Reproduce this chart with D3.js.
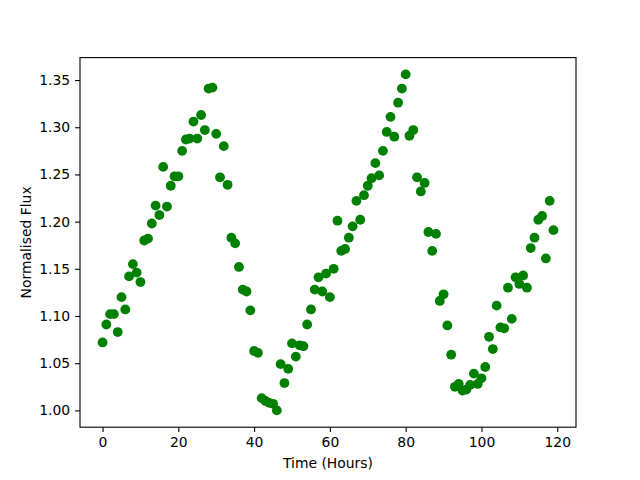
<!DOCTYPE html>
<html>
<head>
<meta charset="utf-8">
<script src="https://cdn.jsdelivr.net/npm/d3@7"></script>
<style>
  body { margin: 0; background: #fff; }
  svg text { font-family: "DejaVu Sans", sans-serif; }
</style>
</head>
<body>
<div id="chart"></div>
<script>
// hours since start, one reading per hour
const hours = d3.range(0, 120);

const flux = [
  1.072, 1.091, 1.102, 1.102, 1.083, 1.120, 1.107, 1.142, 1.155, 1.146,
  1.136, 1.180, 1.182, 1.198, 1.217, 1.207, 1.258, 1.216, 1.238, 1.248,
  1.248, 1.275, 1.287, 1.288, 1.306, 1.288, 1.313, 1.297, 1.341, 1.342,
  1.293, 1.247, 1.280, 1.239, 1.183, 1.177, 1.152, 1.128, 1.126, 1.106,
  1.063, 1.061, 1.013, 1.010, 1.008, 1.007, 1.000, 1.049, 1.029, 1.044,
  1.071, 1.057, 1.069, 1.068, 1.091, 1.107, 1.128, 1.141, 1.126, 1.145,
  1.120, 1.150, 1.201, 1.169, 1.171, 1.183, 1.195, 1.222, 1.202, 1.228,
  1.238, 1.246, 1.262, 1.249, 1.275, 1.295, 1.311, 1.290, 1.326, 1.341,
  1.356, 1.291, 1.297, 1.247, 1.232, 1.241, 1.189, 1.169, 1.187, 1.116,
  1.123, 1.090, 1.059, 1.025, 1.028, 1.021, 1.022, 1.027, 1.039, 1.028,
  1.034, 1.046, 1.078, 1.065, 1.111, 1.088, 1.087, 1.130, 1.097, 1.141,
  1.134, 1.143, 1.130, 1.172, 1.183, 1.202, 1.206, 1.161, 1.222, 1.191
];

const xTicks = [0, 20, 40, 60, 80, 100, 120];
const yTicks = [1.00, 1.05, 1.10, 1.15, 1.20, 1.25, 1.30, 1.35];

const W = 640, H = 480;
const margin = { top: 57.6, right: 64, bottom: 52.8, left: 80 };
const width = W - margin.left - margin.right;
const height = H - margin.top - margin.bottom;

const data = hours.map((h, i) => ({ h: h, f: flux[i] }));

// matplotlib-style 5% padding around the data
function padded(ext) {
  const p = (ext[1] - ext[0]) * 0.05;
  return [ext[0] - p, ext[1] + p];
}

const x = d3.scaleLinear()
  .domain(padded(d3.extent(hours)))
  .range([0, width]);

const y = d3.scaleLinear()
  .domain(padded(d3.extent(flux)))
  .range([height, 0]);

const svg = d3.select("#chart").append("svg")
  .attr("width", W)
  .attr("height", H);

const g = svg.append("g")
  .attr("transform", `translate(${margin.left},${margin.top})`);

// points
g.append("g")
  .selectAll("circle")
  .data(data)
  .enter().append("circle")
  .attr("cx", d => x(d.h))
  .attr("cy", d => y(d.f))
  .attr("r", 4.9)
  .attr("fill", "#008000");

// axes
const xAxis = g.append("g")
  .attr("transform", `translate(0,${height})`)
  .call(d3.axisBottom(x).tickValues(xTicks).tickSize(4.9).tickPadding(4.9).tickFormat(d3.format("d")));

const yAxis = g.append("g")
  .call(d3.axisLeft(y).tickValues(yTicks).tickSize(4.9).tickPadding(4.9).tickFormat(d3.format(".2f")));

[xAxis, yAxis].forEach(a => {
  a.select(".domain").remove();
  a.selectAll(".tick line").attr("stroke", "#000").attr("stroke-width", 1.1);
  a.selectAll(".tick text")
    .attr("fill", "#000")
    .style("font-size", "13.9px")
    .style("font-family", "DejaVu Sans, sans-serif");
});

// frame
g.append("rect")
  .attr("width", width)
  .attr("height", height)
  .attr("fill", "none")
  .attr("stroke", "#000")
  .attr("stroke-width", 1.1);

// labels
svg.append("text")
  .attr("x", margin.left + width / 2)
  .attr("y", 468)
  .attr("text-anchor", "middle")
  .style("font-size", "13.9px")
  .text("Time (Hours)");

svg.append("text")
  .attr("transform", `translate(31,${margin.top + height / 2}) rotate(-90)`)
  .attr("text-anchor", "middle")
  .style("font-size", "13.9px")
  .text("Normalised Flux");
</script>
</body>
</html>
